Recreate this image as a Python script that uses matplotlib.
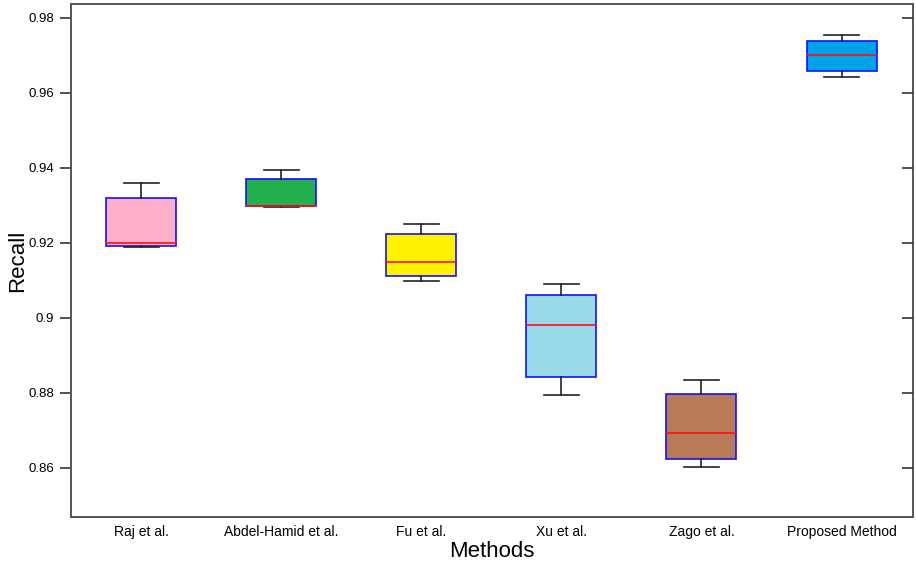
import matplotlib.pyplot as plt

plt.rcParams['font.family'] = ['Liberation Sans', 'DejaVu Sans']

# 方法名称
methods = ['Raj et al.', 'Abdel-Hamid et al.', 'Fu et al.', 'Xu et al.',
           'Zago et al.', 'Proposed Method']
# 箱线图统计量
whislo = [0.9189, 0.9296, 0.9097, 0.8793, 0.8603, 0.9642]
q1 = [0.9192, 0.9299, 0.9112, 0.8841, 0.8624, 0.9657]
med = [0.9200, 0.9299, 0.9148, 0.8980, 0.8693, 0.9700]
q3 = [0.9320, 0.9370, 0.9223, 0.9061, 0.8798, 0.9737]
whishi = [0.9360, 0.9394, 0.9250, 0.9091, 0.8834, 0.9753]
colors = ['#FFAEC9', '#22B14C', '#FFF200', '#99D9EA', '#B97A57', '#00A2E8']
yticks = [0.86, 0.88, 0.9, 0.92, 0.94, 0.96, 0.98]
ytick_labels = ['0.86', '0.88', '0.9', '0.92', '0.94', '0.96', '0.98']

stats = []
for i in range(len(methods)):
    stats.append({'label': methods[i], 'whislo': whislo[i], 'q1': q1[i],
                  'med': med[i], 'q3': q3[i], 'whishi': whishi[i], 'fliers': []})

fig = plt.figure(figsize=(9.16, 5.65), dpi=100)
ax = fig.add_axes([0.0775, 0.085, 0.9192, 0.908])

bp = ax.bxp(stats, positions=range(1, 7), widths=0.5, patch_artist=True,
            showfliers=False, capwidths=0.25,
            boxprops=dict(edgecolor='#1010FF', linewidth=1.2),
            medianprops=dict(color='#FF1010', linewidth=1.2),
            whiskerprops=dict(color='#222222', linewidth=1.2),
            capprops=dict(color='#222222', linewidth=1.2))
for patch, c in zip(bp['boxes'], colors):
    patch.set_facecolor(c)

ax.set_xlim(0.5, 6.51)
ax.set_ylim(0.8469, 0.9837)
ax.set_yticks(yticks)
ax.set_yticklabels(ytick_labels, fontsize=9.5)
ax.set_xticks(range(1, 7))
ax.set_xticklabels(methods, fontsize=10)
ax.tick_params(axis='x', length=0, pad=6)
ax.tick_params(axis='y', length=8, width=1.2, color='#333333', direction='out', pad=4)
for s in ax.spines.values():
    s.set_color('#555555')
    s.set_linewidth(1.4)

# 右侧向内的刻度
ax2 = ax.twinx()
ax2.set_ylim(ax.get_ylim())
ax2.set_yticks(yticks)
ax2.set_yticklabels([])
ax2.tick_params(axis='y', direction='in', length=8, width=1.2, color='#333333')
for s in ax2.spines.values():
    s.set_visible(False)

ax.set_xlabel('Methods', fontsize=16, labelpad=1)
ax.set_ylabel('Recall', fontsize=16)
ax.yaxis.set_label_coords(-0.051, 0.5)

plt.savefig('out.png', dpi=100)
